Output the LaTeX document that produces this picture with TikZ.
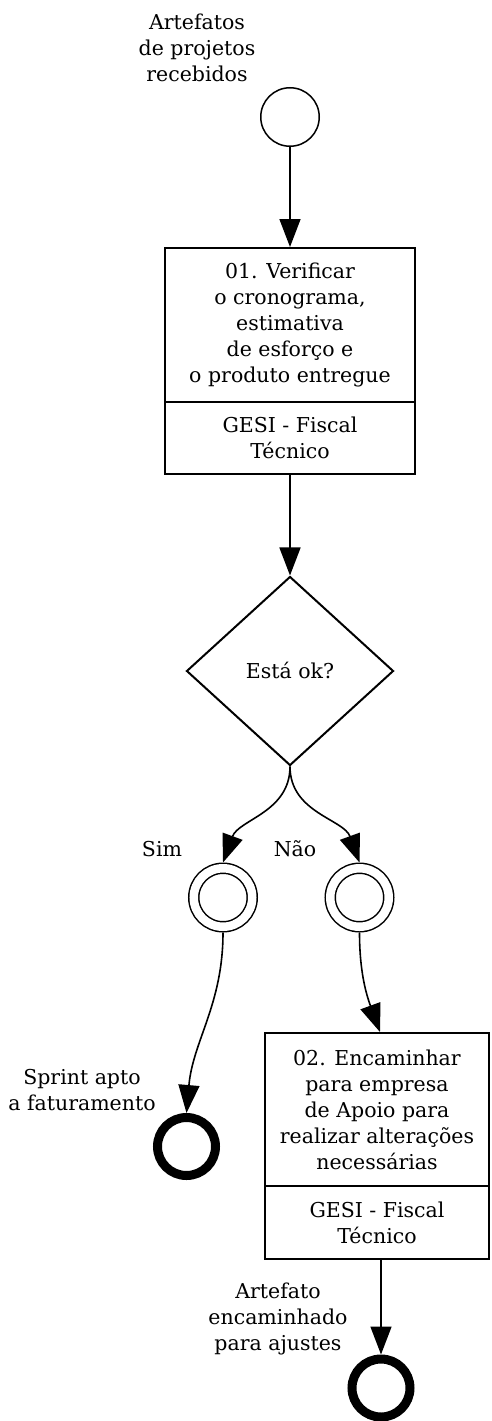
\documentclass[tikz,border=0pt]{standalone}
\usepackage{fontspec}
\setmainfont{DejaVu Serif}
\usetikzlibrary{shapes.geometric,arrows.meta}

\begin{document}
\begin{tikzpicture}[x=1pt, y=-1pt,
	lbl/.style={align=center, inner sep=0pt, font=\fontsize{20.5}{26}\selectfont},
	taskbox/.style={draw, line width=2pt, minimum width=250pt, minimum height=226pt},
	startevt/.style={draw, circle, line width=1.5pt, minimum size=58.5pt},
	midevt/.style={draw, circle, line width=1.5pt, double, double distance=8.5pt, minimum size=58.5pt, outer sep=5.75pt},
	endevt/.style={draw, circle, line width=9pt, minimum size=58pt},
	gate/.style={draw, diamond, line width=2pt, minimum width=207pt, minimum height=189pt},
	flow/.style={line width=1.6pt, -{Triangle[length=28pt, width=21pt]}}]
	\useasboundingbox (0,0) rectangle (492,1421);
	\node[startevt] (start) at (290,117) {};
	\node[lbl] (startlbl) at (197,48) {Artefatos\\de projetos\\recebidos};
	\node[taskbox] (t1) at (290,361) {};
	\node[lbl] (t1txt) at (290,325) {01. Verificar\\o cronograma,\\estimativa\\de esforço e\\o produto entregue};
	\node[lbl] (t1role) at (290,437.5) {GESI - Fiscal\\Técnico};
	\draw[line width=2pt] (t1.west |- 0,402) -- (t1.east |- 0,402);
	\node[gate] (ok) at (290,671) {};
	\node[lbl] (oktxt) at (290,670) {Está ok?};
	\node[midevt] (sim) at (223,897.5) {};
	\node[midevt] (nao) at (359.5,897.5) {};
	\node[lbl] (simlbl) at (162,849) {Sim};
	\node[lbl] (naolbl) at (295,849) {Não};
	\node[endevt] (fim1) at (186.5,1146.5) {};
	\node[lbl] (fim1lbl) at (82,1090) {Sprint apto\\a faturamento};
	\node[taskbox, minimum width=224pt] (t2) at (377,1146) {};
	\node[lbl] (t2txt) at (377,1110) {02. Encaminhar\\para empresa\\de Apoio para\\realizar alterações\\necessárias};
	\node[lbl] (t2role) at (377,1222.5) {GESI - Fiscal\\Técnico};
	\draw[line width=2pt] (t2.west |- 0,1186) -- (t2.east |- 0,1186);
	\node[endevt] (fim2) at (381,1388) {};
	\node[lbl] (fim2lbl) at (278,1319) {Artefato\\encaminhado\\para ajustes};
	\draw[flow] (start) -- (t1);
	\draw[flow] (t1) -- (ok);
	\draw[flow] (ok.south) to[out=-90, in=70] (sim.north);
	\draw[flow] (ok.south) to[out=-90, in=110] (nao.north);
	\draw[flow] (sim.south) to[out=-90, in=85] (fim1.north);
	\draw[flow] (nao.south) to[out=-90, in=110] (t2.north -| 380,0);
	\draw[flow] (t2.south -| 381,0) -- (fim2.north);
\end{tikzpicture}
\end{document}
